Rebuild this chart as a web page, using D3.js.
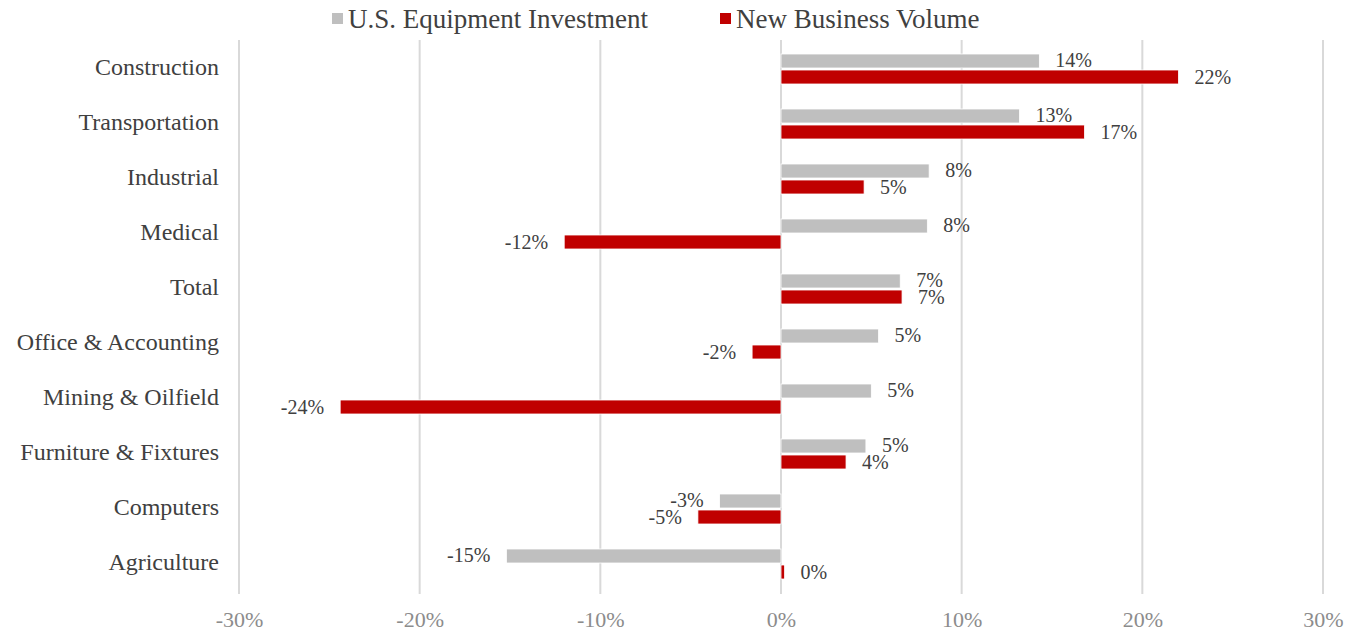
<!DOCTYPE html>
<html>
<head>
<meta charset="utf-8">
<script src="https://cdn.jsdelivr.net/npm/d3@7"></script>
<style>
body{margin:0;background:#fff;}
svg{display:block;}
svg text{font-family:"Liberation Serif","DejaVu Serif",serif;}
</style>
</head>
<body>
<svg></svg>
<script>
// chart data
let categories = ["Construction","Transportation","Industrial","Medical","Total","Office & Accounting","Mining & Oilfield","Furniture & Fixtures","Computers","Agriculture"];
let equipment = [0.143,0.132,0.082,0.081,0.066,0.054,0.050,0.047,-0.034,-0.152];
let newBusiness = [0.220,0.168,0.046,-0.120,0.067,-0.016,-0.244,0.036,-0.046,0.002];
let seriesNames = ["U.S. Equipment Investment","New Business Volume"];
let xTicks = [-0.3,-0.2,-0.1,0,0.1,0.2,0.3];

const w = 1357;
const h = 631;
const padLeft = 239, padRight = 1323, padTop = 40, padBottom = 590;
const colors = ["#bfbfbf","#c00000"];

let svg = d3.select("svg").attr("width",w).attr("height",h);

let xScale = d3.scaleLinear().domain([-0.3,0.3]).range([padLeft,padRight]);
let yScale = d3.scaleBand().domain(categories).range([padTop,padBottom]);
let barH = 14;

//gridlines
svg.append("g")
  .selectAll("line")
  .data(xTicks)
  .enter()
  .append("line")
  .attr("x1",d=>xScale(d)).attr("x2",d=>xScale(d))
  .attr("y1",padTop).attr("y2",padBottom+4)
  .attr("stroke","#d9d9d9")
  .attr("stroke-width",2)

//x axis labels
let xAxis = d3.axisBottom(xScale)
  .tickValues(xTicks)
  .tickSize(0)
  .tickPadding(0)
  .tickFormat(d=>d3.format(".0%")(d).replace("−","-"))
let gx = svg.append("g")
  .attr("transform","translate(0,"+(padBottom+37)+")")
  .call(xAxis)
  .attr("font-family",null).attr("font-size",null)
gx.select(".domain").remove()
gx.selectAll("text").attr("fill","#8c8c8c").style("font-size","22px").attr("dy","0")

//category labels
let yAxis = d3.axisLeft(yScale).tickSize(0).tickPadding(20)
let gy = svg.append("g")
  .attr("transform","translate("+padLeft+",0)")
  .call(yAxis)
  .attr("font-family",null).attr("font-size",null)
gy.select(".domain").remove()
gy.selectAll("text").attr("fill","#404040").style("font-size","24px").attr("dy","0.3em")

let rows = categories.map((c,i)=>({cat:c, vals:[equipment[i],newBusiness[i]]}))

let groups = svg.append("g").selectAll("g")
  .data(rows)
  .enter()
  .append("g")
  .attr("transform",d=>"translate(0,"+(yScale(d.cat)+yScale.bandwidth()/2+1.5)+")")

groups.selectAll("rect")
  .data(d=>d.vals)
  .enter()
  .append("rect")
  .attr("x",d=>xScale(Math.min(0,d)))
  .attr("width",d=>Math.abs(xScale(d)-xScale(0)))
  .attr("y",(d,i)=> i==0 ? -barH-1 : 1)
  .attr("height",barH)
  .attr("fill",(d,i)=>colors[i])
  .attr("stroke","#fff")
  .attr("stroke-width",0.8)

//data labels
groups.selectAll("text")
  .data(d=>d.vals)
  .enter()
  .append("text")
  .attr("x",d=> d>=0 ? xScale(d)+16 : xScale(d)-16)
  .attr("y",(d,i)=> i==0 ? -barH/2-2 : barH/2+1)
  .attr("dy","0.35em")
  .attr("text-anchor",d=> d>=0 ? "start" : "end")
  .attr("fill","#404040")
  .style("font-size","20px")
  .text(d=>Math.round(d*100)+"%")

//legend
let legend = svg.append("g")
let lx = [332,720]
seriesNames.forEach((n,i)=>{
  legend.append("rect").attr("x",lx[i]).attr("y",13).attr("width",11).attr("height",11).attr("fill",colors[i])
  legend.append("text").attr("x",lx[i]+16).attr("y",19).attr("dy","0.35em")
    .attr("fill","#404040").style("font-size","27px").text(n)
})
</script>
</body>
</html>
